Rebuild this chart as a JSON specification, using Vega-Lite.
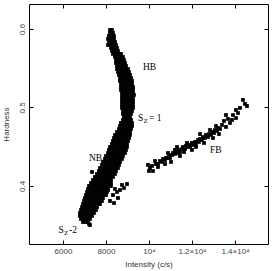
{
"$schema":"https://vega.github.io/schema/vega-lite/v6.json",
"width":239,"height":240,
"autosize":{"type":"none"},
"padding":{"left":29,"top":4,"right":5,"bottom":27},
"background":"white",
"datasets":{
"points":[
{"intensity":8186,"hardness":0.5987},{"intensity":8279,"hardness":0.5987},
{"intensity":8186,"hardness":0.5949},{"intensity":8325,"hardness":0.5949},
{"intensity":8139,"hardness":0.5911},{"intensity":8279,"hardness":0.5911},{"intensity":8372,"hardness":0.5911},
{"intensity":8093,"hardness":0.5873},{"intensity":8232,"hardness":0.5873},{"intensity":8372,"hardness":0.5873},
{"intensity":8139,"hardness":0.5834},{"intensity":8279,"hardness":0.5834},{"intensity":8419,"hardness":0.5834},
{"intensity":8186,"hardness":0.5796},{"intensity":8325,"hardness":0.5796},{"intensity":8465,"hardness":0.5796},
{"intensity":8232,"hardness":0.5758},{"intensity":8372,"hardness":0.5758},{"intensity":8512,"hardness":0.5758},
{"intensity":8279,"hardness":0.5720},{"intensity":8419,"hardness":0.5720},{"intensity":8558,"hardness":0.5720},
{"intensity":8325,"hardness":0.5682},{"intensity":8465,"hardness":0.5682},{"intensity":8605,"hardness":0.5682},{"intensity":8698,"hardness":0.5682},
{"intensity":8419,"hardness":0.5643},{"intensity":8558,"hardness":0.5643},{"intensity":8698,"hardness":0.5643},{"intensity":8791,"hardness":0.5643},
{"intensity":8465,"hardness":0.5605},{"intensity":8605,"hardness":0.5605},{"intensity":8744,"hardness":0.5605},{"intensity":8837,"hardness":0.5605},
{"intensity":8465,"hardness":0.5567},{"intensity":8605,"hardness":0.5567},{"intensity":8744,"hardness":0.5567},{"intensity":8884,"hardness":0.5567},
{"intensity":8512,"hardness":0.5529},{"intensity":8651,"hardness":0.5529},{"intensity":8791,"hardness":0.5529},{"intensity":8930,"hardness":0.5529},
{"intensity":8512,"hardness":0.5490},{"intensity":8651,"hardness":0.5490},{"intensity":8791,"hardness":0.5490},{"intensity":8930,"hardness":0.5490},{"intensity":9023,"hardness":0.5490},
{"intensity":8558,"hardness":0.5452},{"intensity":8698,"hardness":0.5452},{"intensity":8837,"hardness":0.5452},{"intensity":8977,"hardness":0.5452},{"intensity":9070,"hardness":0.5452},
{"intensity":8605,"hardness":0.5414},{"intensity":8744,"hardness":0.5414},{"intensity":8884,"hardness":0.5414},{"intensity":9023,"hardness":0.5414},{"intensity":9116,"hardness":0.5414},
{"intensity":8651,"hardness":0.5376},{"intensity":8791,"hardness":0.5376},{"intensity":8930,"hardness":0.5376},{"intensity":9070,"hardness":0.5376},{"intensity":9163,"hardness":0.5376},
{"intensity":8651,"hardness":0.5338},{"intensity":8791,"hardness":0.5338},{"intensity":8930,"hardness":0.5338},{"intensity":9070,"hardness":0.5338},{"intensity":9209,"hardness":0.5338},
{"intensity":8698,"hardness":0.5299},{"intensity":8837,"hardness":0.5299},{"intensity":8977,"hardness":0.5299},{"intensity":9116,"hardness":0.5299},{"intensity":9209,"hardness":0.5299},
{"intensity":8698,"hardness":0.5261},{"intensity":8837,"hardness":0.5261},{"intensity":8977,"hardness":0.5261},{"intensity":9116,"hardness":0.5261},{"intensity":9256,"hardness":0.5261},
{"intensity":8698,"hardness":0.5223},{"intensity":8837,"hardness":0.5223},{"intensity":8977,"hardness":0.5223},{"intensity":9116,"hardness":0.5223},{"intensity":9256,"hardness":0.5223},
{"intensity":8744,"hardness":0.5185},{"intensity":8884,"hardness":0.5185},{"intensity":9023,"hardness":0.5185},{"intensity":9163,"hardness":0.5185},{"intensity":9256,"hardness":0.5185},
{"intensity":8744,"hardness":0.5146},{"intensity":8884,"hardness":0.5146},{"intensity":9023,"hardness":0.5146},{"intensity":9163,"hardness":0.5146},{"intensity":9256,"hardness":0.5146},
{"intensity":8744,"hardness":0.5108},{"intensity":8884,"hardness":0.5108},{"intensity":9023,"hardness":0.5108},{"intensity":9163,"hardness":0.5108},{"intensity":9256,"hardness":0.5108},
{"intensity":8744,"hardness":0.5070},{"intensity":8884,"hardness":0.5070},{"intensity":9023,"hardness":0.5070},{"intensity":9163,"hardness":0.5070},{"intensity":9256,"hardness":0.5070},
{"intensity":8744,"hardness":0.5032},{"intensity":8884,"hardness":0.5032},{"intensity":9023,"hardness":0.5032},{"intensity":9163,"hardness":0.5032},{"intensity":9256,"hardness":0.5032},
{"intensity":8744,"hardness":0.4994},{"intensity":8884,"hardness":0.4994},{"intensity":9023,"hardness":0.4994},{"intensity":9163,"hardness":0.4994},{"intensity":9256,"hardness":0.4994},
{"intensity":8791,"hardness":0.4955},{"intensity":8930,"hardness":0.4955},{"intensity":9070,"hardness":0.4955},{"intensity":9209,"hardness":0.4955},
{"intensity":8791,"hardness":0.4917},{"intensity":8930,"hardness":0.4917},{"intensity":9070,"hardness":0.4917},{"intensity":9163,"hardness":0.4917},
{"intensity":8837,"hardness":0.4879},{"intensity":8977,"hardness":0.4879},{"intensity":9116,"hardness":0.4879},
{"intensity":8791,"hardness":0.4841},{"intensity":8930,"hardness":0.4841},{"intensity":9070,"hardness":0.4841},{"intensity":9163,"hardness":0.4841},
{"intensity":8698,"hardness":0.4803},{"intensity":8837,"hardness":0.4803},{"intensity":8977,"hardness":0.4803},{"intensity":9116,"hardness":0.4803},{"intensity":9209,"hardness":0.4803},
{"intensity":8651,"hardness":0.4764},{"intensity":8791,"hardness":0.4764},{"intensity":8930,"hardness":0.4764},{"intensity":9070,"hardness":0.4764},{"intensity":9209,"hardness":0.4764},
{"intensity":8605,"hardness":0.4726},{"intensity":8744,"hardness":0.4726},{"intensity":8884,"hardness":0.4726},{"intensity":9023,"hardness":0.4726},{"intensity":9163,"hardness":0.4726},
{"intensity":8512,"hardness":0.4688},{"intensity":8651,"hardness":0.4688},{"intensity":8791,"hardness":0.4688},{"intensity":8930,"hardness":0.4688},{"intensity":9070,"hardness":0.4688},{"intensity":9116,"hardness":0.4688},
{"intensity":8419,"hardness":0.4650},{"intensity":8558,"hardness":0.4650},{"intensity":8698,"hardness":0.4650},{"intensity":8837,"hardness":0.4650},{"intensity":8977,"hardness":0.4650},{"intensity":9116,"hardness":0.4650},
{"intensity":8372,"hardness":0.4611},{"intensity":8512,"hardness":0.4611},{"intensity":8651,"hardness":0.4611},{"intensity":8791,"hardness":0.4611},{"intensity":8930,"hardness":0.4611},{"intensity":9070,"hardness":0.4611},
{"intensity":8325,"hardness":0.4573},{"intensity":8465,"hardness":0.4573},{"intensity":8605,"hardness":0.4573},{"intensity":8744,"hardness":0.4573},{"intensity":8884,"hardness":0.4573},{"intensity":9023,"hardness":0.4573},
{"intensity":8279,"hardness":0.4535},{"intensity":8419,"hardness":0.4535},{"intensity":8558,"hardness":0.4535},{"intensity":8698,"hardness":0.4535},{"intensity":8837,"hardness":0.4535},{"intensity":8977,"hardness":0.4535},
{"intensity":8186,"hardness":0.4497},{"intensity":8325,"hardness":0.4497},{"intensity":8465,"hardness":0.4497},{"intensity":8605,"hardness":0.4497},{"intensity":8744,"hardness":0.4497},{"intensity":8884,"hardness":0.4497},{"intensity":8977,"hardness":0.4497},
{"intensity":8139,"hardness":0.4459},{"intensity":8279,"hardness":0.4459},{"intensity":8419,"hardness":0.4459},{"intensity":8558,"hardness":0.4459},{"intensity":8698,"hardness":0.4459},{"intensity":8837,"hardness":0.4459},{"intensity":8930,"hardness":0.4459},
{"intensity":8093,"hardness":0.4420},{"intensity":8232,"hardness":0.4420},{"intensity":8372,"hardness":0.4420},{"intensity":8512,"hardness":0.4420},{"intensity":8651,"hardness":0.4420},{"intensity":8791,"hardness":0.4420},{"intensity":8884,"hardness":0.4420},
{"intensity":8000,"hardness":0.4382},{"intensity":8139,"hardness":0.4382},{"intensity":8279,"hardness":0.4382},{"intensity":8419,"hardness":0.4382},{"intensity":8558,"hardness":0.4382},{"intensity":8698,"hardness":0.4382},{"intensity":8791,"hardness":0.4382},
{"intensity":7953,"hardness":0.4344},{"intensity":8093,"hardness":0.4344},{"intensity":8232,"hardness":0.4344},{"intensity":8372,"hardness":0.4344},{"intensity":8512,"hardness":0.4344},{"intensity":8651,"hardness":0.4344},{"intensity":8744,"hardness":0.4344},
{"intensity":7860,"hardness":0.4306},{"intensity":8000,"hardness":0.4306},{"intensity":8139,"hardness":0.4306},{"intensity":8279,"hardness":0.4306},{"intensity":8419,"hardness":0.4306},{"intensity":8558,"hardness":0.4306},{"intensity":8651,"hardness":0.4306},
{"intensity":7814,"hardness":0.4268},{"intensity":7953,"hardness":0.4268},{"intensity":8093,"hardness":0.4268},{"intensity":8232,"hardness":0.4268},{"intensity":8372,"hardness":0.4268},{"intensity":8512,"hardness":0.4268},{"intensity":8605,"hardness":0.4268},
{"intensity":7721,"hardness":0.4229},{"intensity":7860,"hardness":0.4229},{"intensity":8000,"hardness":0.4229},{"intensity":8139,"hardness":0.4229},{"intensity":8279,"hardness":0.4229},{"intensity":8419,"hardness":0.4229},{"intensity":8558,"hardness":0.4229},
{"intensity":7674,"hardness":0.4191},{"intensity":7814,"hardness":0.4191},{"intensity":7953,"hardness":0.4191},{"intensity":8093,"hardness":0.4191},{"intensity":8232,"hardness":0.4191},{"intensity":8372,"hardness":0.4191},{"intensity":8465,"hardness":0.4191},
{"intensity":7581,"hardness":0.4153},{"intensity":7721,"hardness":0.4153},{"intensity":7860,"hardness":0.4153},{"intensity":8000,"hardness":0.4153},{"intensity":8139,"hardness":0.4153},{"intensity":8279,"hardness":0.4153},{"intensity":8419,"hardness":0.4153},
{"intensity":7488,"hardness":0.4115},{"intensity":7628,"hardness":0.4115},{"intensity":7767,"hardness":0.4115},{"intensity":7907,"hardness":0.4115},{"intensity":8046,"hardness":0.4115},{"intensity":8186,"hardness":0.4115},{"intensity":8325,"hardness":0.4115},
{"intensity":7395,"hardness":0.4076},{"intensity":7535,"hardness":0.4076},{"intensity":7674,"hardness":0.4076},{"intensity":7814,"hardness":0.4076},{"intensity":7953,"hardness":0.4076},{"intensity":8093,"hardness":0.4076},{"intensity":8232,"hardness":0.4076},
{"intensity":7302,"hardness":0.4038},{"intensity":7442,"hardness":0.4038},{"intensity":7581,"hardness":0.4038},{"intensity":7721,"hardness":0.4038},{"intensity":7860,"hardness":0.4038},{"intensity":8000,"hardness":0.4038},{"intensity":8139,"hardness":0.4038},{"intensity":8232,"hardness":0.4038},
{"intensity":7209,"hardness":0.4000},{"intensity":7349,"hardness":0.4000},{"intensity":7488,"hardness":0.4000},{"intensity":7628,"hardness":0.4000},{"intensity":7767,"hardness":0.4000},{"intensity":7907,"hardness":0.4000},{"intensity":8046,"hardness":0.4000},{"intensity":8186,"hardness":0.4000},
{"intensity":7163,"hardness":0.3962},{"intensity":7302,"hardness":0.3962},{"intensity":7442,"hardness":0.3962},{"intensity":7581,"hardness":0.3962},{"intensity":7721,"hardness":0.3962},{"intensity":7860,"hardness":0.3962},{"intensity":8000,"hardness":0.3962},{"intensity":8093,"hardness":0.3962},
{"intensity":7116,"hardness":0.3924},{"intensity":7256,"hardness":0.3924},{"intensity":7395,"hardness":0.3924},{"intensity":7535,"hardness":0.3924},{"intensity":7674,"hardness":0.3924},{"intensity":7814,"hardness":0.3924},{"intensity":7953,"hardness":0.3924},{"intensity":8046,"hardness":0.3924},
{"intensity":7070,"hardness":0.3885},{"intensity":7209,"hardness":0.3885},{"intensity":7349,"hardness":0.3885},{"intensity":7488,"hardness":0.3885},{"intensity":7628,"hardness":0.3885},{"intensity":7767,"hardness":0.3885},{"intensity":7907,"hardness":0.3885},{"intensity":8000,"hardness":0.3885},
{"intensity":7023,"hardness":0.3847},{"intensity":7163,"hardness":0.3847},{"intensity":7302,"hardness":0.3847},{"intensity":7442,"hardness":0.3847},{"intensity":7581,"hardness":0.3847},{"intensity":7721,"hardness":0.3847},{"intensity":7860,"hardness":0.3847},
{"intensity":6977,"hardness":0.3809},{"intensity":7116,"hardness":0.3809},{"intensity":7256,"hardness":0.3809},{"intensity":7395,"hardness":0.3809},{"intensity":7535,"hardness":0.3809},{"intensity":7674,"hardness":0.3809},{"intensity":7814,"hardness":0.3809},
{"intensity":6930,"hardness":0.3771},{"intensity":7070,"hardness":0.3771},{"intensity":7209,"hardness":0.3771},{"intensity":7349,"hardness":0.3771},{"intensity":7488,"hardness":0.3771},{"intensity":7628,"hardness":0.3771},{"intensity":7721,"hardness":0.3771},
{"intensity":6884,"hardness":0.3732},{"intensity":7023,"hardness":0.3732},{"intensity":7163,"hardness":0.3732},{"intensity":7302,"hardness":0.3732},{"intensity":7442,"hardness":0.3732},{"intensity":7581,"hardness":0.3732},
{"intensity":6837,"hardness":0.3694},{"intensity":6977,"hardness":0.3694},{"intensity":7116,"hardness":0.3694},{"intensity":7256,"hardness":0.3694},{"intensity":7395,"hardness":0.3694},{"intensity":7535,"hardness":0.3694},
{"intensity":6791,"hardness":0.3656},{"intensity":6930,"hardness":0.3656},{"intensity":7070,"hardness":0.3656},{"intensity":7209,"hardness":0.3656},{"intensity":7349,"hardness":0.3656},{"intensity":7442,"hardness":0.3656},
{"intensity":6791,"hardness":0.3618},{"intensity":6930,"hardness":0.3618},{"intensity":7070,"hardness":0.3618},{"intensity":7209,"hardness":0.3618},{"intensity":7349,"hardness":0.3618},
{"intensity":6837,"hardness":0.3580},{"intensity":6977,"hardness":0.3580},{"intensity":7116,"hardness":0.3580},{"intensity":7256,"hardness":0.3580},
{"intensity":6930,"hardness":0.3541},{"intensity":7070,"hardness":0.3541},{"intensity":7163,"hardness":0.3541},
{"intensity":8093,"hardness":0.3949},{"intensity":8232,"hardness":0.4000},{"intensity":8325,"hardness":0.3885},{"intensity":8419,"hardness":0.3962},{"intensity":8558,"hardness":0.3847},{"intensity":8651,"hardness":0.3949},{"intensity":8744,"hardness":0.4013},{"intensity":8837,"hardness":0.3975},{"intensity":8977,"hardness":0.4025},{"intensity":8186,"hardness":0.3809},{"intensity":8372,"hardness":0.3783},{"intensity":8512,"hardness":0.3924},{"intensity":7209,"hardness":0.3516},{"intensity":7256,"hardness":0.3503},{"intensity":7349,"hardness":0.4178},{"intensity":8093,"hardness":0.5796},{"intensity":9302,"hardness":0.5159},
{"intensity":9953,"hardness":0.4268},{"intensity":10046,"hardness":0.4229},{"intensity":10139,"hardness":0.4255},{"intensity":10000,"hardness":0.4191},{"intensity":10186,"hardness":0.4191},{"intensity":10325,"hardness":0.4280},{"intensity":10418,"hardness":0.4242},{"intensity":10279,"hardness":0.4318},
{"intensity":10418,"hardness":0.4280},{"intensity":10511,"hardness":0.4318},{"intensity":10604,"hardness":0.4306},{"intensity":10651,"hardness":0.4344},{"intensity":10744,"hardness":0.4331},{"intensity":10791,"hardness":0.4357},{"intensity":10884,"hardness":0.4357},{"intensity":10930,"hardness":0.4382},{"intensity":10977,"hardness":0.4357},{"intensity":11070,"hardness":0.4395},{"intensity":11116,"hardness":0.4420},{"intensity":11209,"hardness":0.4408},{"intensity":11256,"hardness":0.4433},{"intensity":11349,"hardness":0.4420},{"intensity":11395,"hardness":0.4459},{"intensity":11442,"hardness":0.4433},{"intensity":11535,"hardness":0.4471},{"intensity":11581,"hardness":0.4497},{"intensity":11674,"hardness":0.4471},{"intensity":11721,"hardness":0.4510},{"intensity":11814,"hardness":0.4497},{"intensity":11860,"hardness":0.4522},{"intensity":11907,"hardness":0.4497},{"intensity":12000,"hardness":0.4548},{"intensity":12046,"hardness":0.4522},{"intensity":12139,"hardness":0.4561},{"intensity":12186,"hardness":0.4535},{"intensity":12279,"hardness":0.4586},{"intensity":12325,"hardness":0.4561},{"intensity":12372,"hardness":0.4599},{"intensity":12465,"hardness":0.4586},{"intensity":12511,"hardness":0.4624},{"intensity":12604,"hardness":0.4611},{"intensity":12651,"hardness":0.4650},{"intensity":12744,"hardness":0.4624},{"intensity":12790,"hardness":0.4662},{"intensity":12883,"hardness":0.4650},{"intensity":12930,"hardness":0.4688},{"intensity":13023,"hardness":0.4675},{"intensity":13070,"hardness":0.4713},{"intensity":13163,"hardness":0.4701},{"intensity":13209,"hardness":0.4739},
{"intensity":10744,"hardness":0.4280},{"intensity":11023,"hardness":0.4306},{"intensity":11209,"hardness":0.4459},{"intensity":11442,"hardness":0.4382},{"intensity":11628,"hardness":0.4433},{"intensity":11767,"hardness":0.4548},{"intensity":12000,"hardness":0.4459},{"intensity":12186,"hardness":0.4497},{"intensity":12372,"hardness":0.4662},{"intensity":12558,"hardness":0.4548},{"intensity":12837,"hardness":0.4713},{"intensity":12977,"hardness":0.4611},{"intensity":13116,"hardness":0.4764},{"intensity":13302,"hardness":0.4726},{"intensity":13256,"hardness":0.4662},{"intensity":10884,"hardness":0.4420},{"intensity":11302,"hardness":0.4497},
{"intensity":13395,"hardness":0.4777},{"intensity":13488,"hardness":0.4828},{"intensity":13581,"hardness":0.4752},{"intensity":13674,"hardness":0.4854},{"intensity":13767,"hardness":0.4803},{"intensity":13907,"hardness":0.4904},{"intensity":14046,"hardness":0.4866},{"intensity":14046,"hardness":0.4968},{"intensity":14232,"hardness":0.4994},{"intensity":14372,"hardness":0.5096},{"intensity":14465,"hardness":0.5045},{"intensity":14558,"hardness":0.5019},{"intensity":13581,"hardness":0.4904},{"intensity":13860,"hardness":0.4841},{"intensity":14139,"hardness":0.4930}
],
"labels":[
{"intensity":9721,"hardness":0.5516,"label":"HB"},
{"intensity":9488,"hardness":0.4860,"label":"S"},
{"intensity":10000,"hardness":0.4860,"label":"= 1"},
{"intensity":7209,"hardness":0.4357,"label":"NB"},
{"intensity":12837,"hardness":0.4459,"label":"FB"},
{"intensity":5790,"hardness":0.3440,"label":"S"},
{"intensity":6280,"hardness":0.3440,"label":"-2"}
],
"subs":[
{"intensity":9744,"hardness":0.4822,"label":"Z"},
{"intensity":6046,"hardness":0.3401,"label":"Z"}
]
},
"layer":[
{"data":{"name":"points"},
"mark":{"type":"point","shape":"square","filled":true,"size":14,"color":"black","opacity":1,"strokeWidth":0},
"encoding":{
"x":{"field":"intensity","type":"quantitative","scale":{"domain":[4419,15535],"nice":false,"zero":false},
"axis":{"orient":"bottom","values":[6000,8000,10000,12000,14000],"labelExpr":"datum.value==10000?'10⁴':datum.value==12000?'1.2×10⁴':datum.value==14000?'1.4×10⁴':format(datum.value,'d')","title":"Intensity (c/s)","tickSize":-4,"labelPadding":7,"titlePadding":5}},
"y":{"field":"hardness","type":"quantitative","scale":{"domain":[0.3261,0.6318],"nice":false,"zero":false},
"axis":{"orient":"left","values":[0.4,0.5,0.6],"format":".1f","labelAngle":-90,"title":"Hardness","tickSize":-4,"labelPadding":7,"titlePadding":8}}
}},
{"data":{"name":"labels"},
"mark":{"type":"text","font":"Liberation Serif","fontSize":9.5,"align":"left","baseline":"middle","color":"black"},
"encoding":{
"x":{"field":"intensity","type":"quantitative","axis":{"orient":"top","values":[6000,8000,10000,12000,14000],"labels":false,"title":null,"tickSize":-4}},
"y":{"field":"hardness","type":"quantitative","axis":{"orient":"right","values":[0.4,0.5,0.6],"labels":false,"title":null,"tickSize":-4}},
"text":{"field":"label"}
}},
{"data":{"name":"subs"},
"mark":{"type":"text","font":"Liberation Serif","fontSize":7,"align":"left","baseline":"middle","color":"black"},
"encoding":{
"x":{"field":"intensity","type":"quantitative","axis":null},
"y":{"field":"hardness","type":"quantitative","axis":null},
"text":{"field":"label"}
}}
],
"resolve":{"axis":{"x":"independent","y":"independent"}},
"config":{
"view":{"stroke":"black","strokeWidth":1},
"axis":{"domain":false,"grid":false,"tickColor":"black","labelFont":"Liberation Sans","labelFontSize":8,"labelColor":"#444","titleFont":"Liberation Sans","titleFontSize":8,"titleFontWeight":"normal","titleColor":"#333"}
}
}
